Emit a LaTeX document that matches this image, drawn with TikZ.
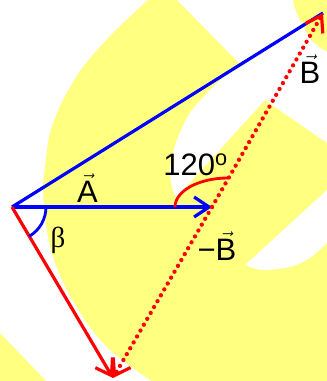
\documentclass[tikz,border=0pt]{standalone}
\usepackage{fontspec}
\setmainfont{Liberation Sans}
\newfontfamily\greekserif{Liberation Serif}
\usetikzlibrary{arrows.meta}
\definecolor{wmyellow}{RGB}{255,255,128}
\definecolor{vecblue}{RGB}{0,0,255}
\definecolor{vecred}{RGB}{255,0,0}
\begin{document}
\begin{tikzpicture}[x=1pt,y=-1pt,
  bvec/.style={draw=vecblue, line width=3.2pt},
  rvec/.style={draw=vecred, line width=3.2pt},
  rdot/.style={draw=vecred, line width=4.3pt, line cap=round, dash pattern=on 0pt off 6.8pt},
  vtip/.style={-{Straight Barb[length=15pt,width=20pt,line width=3.2pt]}},
  lbl/.style={font=\fontsize{31}{34}\selectfont, inner sep=0pt},
  anglearc/.style={line width=2.8pt}]
\useasboundingbox (0,0) rectangle (327,381);
\fill[white] (0,0) rectangle (327,381);
\begin{scope}
\clip (0,0) rectangle (327,381);
% watermark
\fill[wmyellow] plot[smooth] coordinates {(148,0) (113,33) (83,67) (63,100) (50,133) (45,167) (43,190) (46,225) (53,257) (67,290) (87,323) (110,350) (140,373) (152,381)} -- (327,381) -- (327,0) -- cycle;
\fill[white] (177,0) -- (240,64) -- plot[smooth] coordinates {(240,64) (213,87) (190,113) (177,140) (170,167) (172,187) (176,198)} -- (265,100) -- (327,143) -- (327,52) -- plot[smooth] coordinates {(327,52) (312,41) (302,24) (295,9) (293,0)} -- cycle;
\fill[white] (327,190) -- (245,265) -- plot[smooth] coordinates {(245,265) (262,270) (290,267) (310,258) (327,243)} -- cycle;
\fill[wmyellow] (0,333) -- (46,381) -- (0,381) -- cycle;
\end{scope}
% points
\coordinate (O) at (12,207);
\coordinate (Atip) at (212,207);
\coordinate (Btip) at (323,13);
\coordinate (Ctip) at (113,378);
\coordinate (arcS) at (175,207);
% vectors
\draw[bvec] (O) -- (Btip);
\draw[bvec, vtip] (O) -- (Atip);
\draw[rdot, vtip] (Atip) -- (Btip);
\draw[rdot, vtip] (Atip) -- (Ctip);
\draw[rvec, vtip] (O) -- (Ctip);
% angle arcs
\draw[vecred, anglearc] (arcS) arc[start angle=180, end angle=270, x radius=53, y radius=29];
\draw[vecblue, anglearc] ([shift={(0:34)}]O) arc[start angle=0, end angle=59.4, radius=34];
% labels
\node[lbl, anchor=base] (la) at (87.5,202) {$\vec{\mbox{A}}$};
\node[lbl, anchor=base] (lb) at (310,83) {$\vec{\mbox{B}}$};
\node[lbl, anchor=base] (lmb) at (217,260) {−$\vec{\mbox{B}}$};
\node[lbl, anchor=base] (lang) at (195.5,175) {120\textsuperscript{o}};
\node[inner sep=0pt, font=\fontsize{29}{31}\selectfont\greekserif] (lbeta) at (58,240) {β};
\end{tikzpicture}
\end{document}
